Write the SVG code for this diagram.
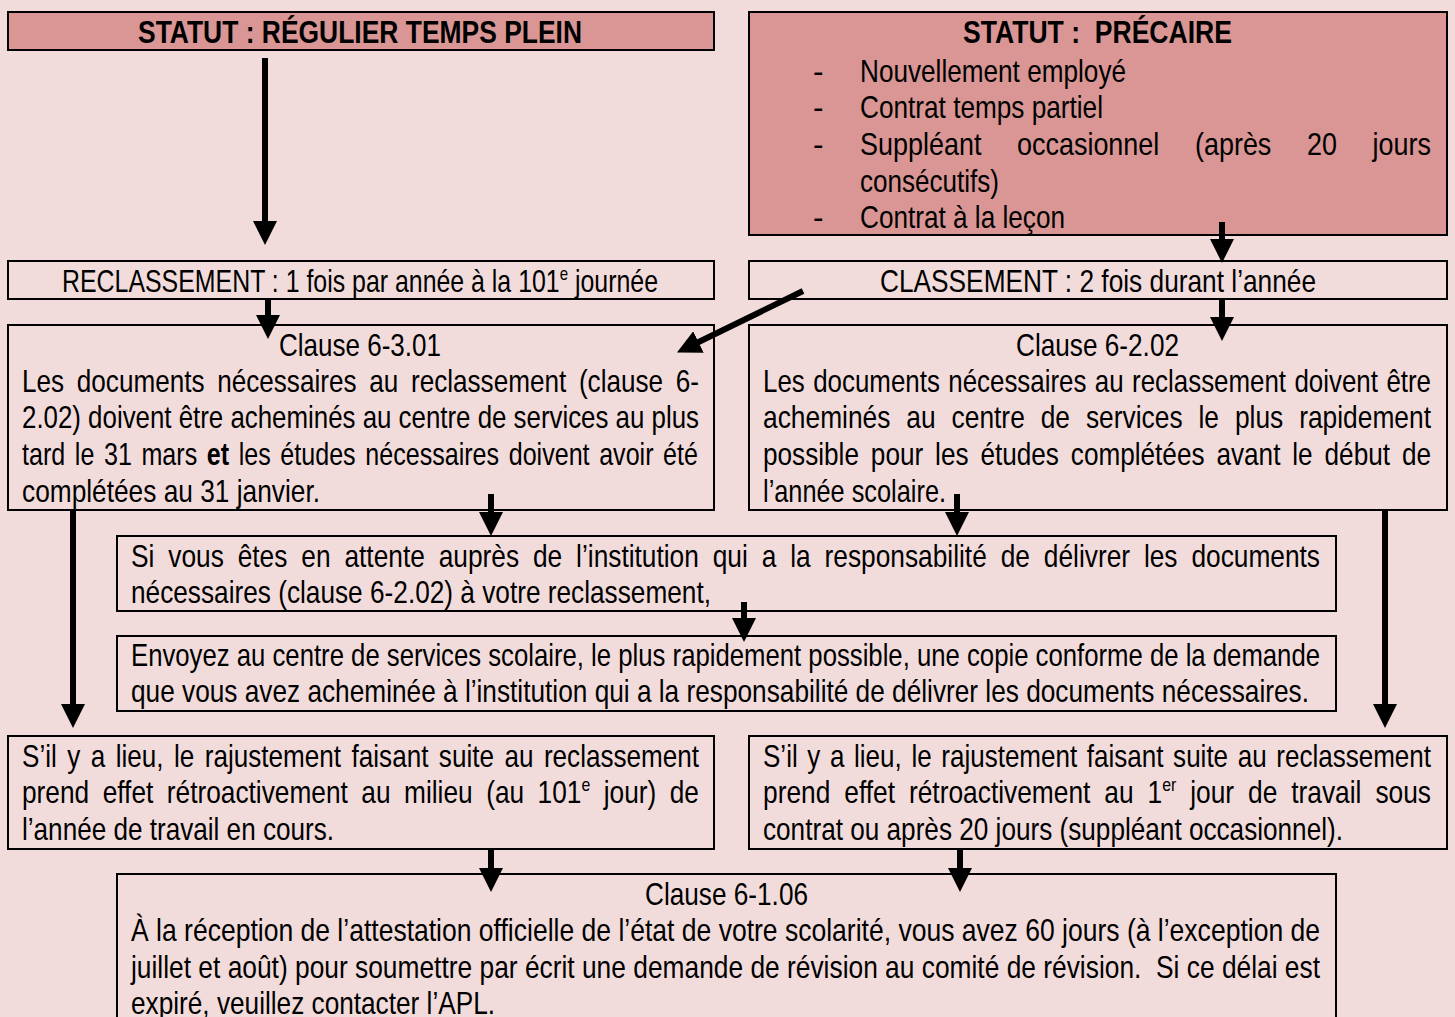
<svg xmlns="http://www.w3.org/2000/svg" width="1455" height="1017" viewBox="0 0 1455 1017">
<style>
.bg{fill:#F2DCDB}
.box{fill:#F2DCDB;stroke:#000;stroke-width:2}
.hdr{fill:#D99694;stroke:#000;stroke-width:2}
text{font-family:"Liberation Sans Narrow","Arial Narrow","Liberation Sans",Arial,sans-serif;font-size:31.5px;fill:#000}
.b{font-weight:bold}
.conn{stroke:#000;stroke-width:6;fill:none;marker-end:url(#ah)}
</style>
<defs>
<marker id="ah" markerUnits="userSpaceOnUse" markerWidth="24" markerHeight="24" viewBox="0 0 24 24" refX="1" refY="12" orient="auto">
<path d="M0,0 L24,12 L0,24 z" fill="#000"/>
</marker>
</defs>
<rect class="bg" x="0" y="0" width="1455" height="1017"/>

<g id="statut-regulier">
<rect class="hdr" x="8" y="12" width="706" height="38"/>
<text class="b" x="138" y="43" textLength="444" lengthAdjust="spacingAndGlyphs">STATUT : RÉGULIER TEMPS PLEIN</text>
</g>

<g id="statut-precaire">
<rect class="hdr" x="749" y="12" width="698" height="223"/>
<text class="b" x="963" y="43" textLength="269" lengthAdjust="spacingAndGlyphs" xml:space="preserve">STATUT :  PRÉCAIRE</text>
<text x="813" y="82">-</text>
<text x="860" y="82" textLength="266" lengthAdjust="spacingAndGlyphs">Nouvellement employé</text>
<text x="813" y="118">-</text>
<text x="860" y="118" textLength="243" lengthAdjust="spacingAndGlyphs">Contrat temps partiel</text>
<text x="813" y="155">-</text>
<text x="860" y="155" style="word-spacing:32.9px" textLength="571" lengthAdjust="spacingAndGlyphs">Suppléant occasionnel (après 20 jours</text>
<text x="860" y="192" textLength="139" lengthAdjust="spacingAndGlyphs">consécutifs)</text>
<text x="813" y="228">-</text>
<text x="860" y="228" textLength="205" lengthAdjust="spacingAndGlyphs">Contrat à la leçon</text>
</g>

<g id="reclassement">
<rect class="box" x="8" y="261" width="706" height="38"/>
<text x="62" y="292" textLength="596" lengthAdjust="spacingAndGlyphs">RECLASSEMENT : 1 fois par année à la 101<tspan font-size="19" dy="-12">e</tspan><tspan dy="12"> journée</tspan></text>
</g>

<g id="classement">
<rect class="box" x="749" y="261" width="698" height="38"/>
<text x="880" y="292" textLength="436" lengthAdjust="spacingAndGlyphs">CLASSEMENT : 2 fois durant l’année</text>
</g>

<g id="clause-6-3-01">
<rect class="box" x="8" y="325" width="706" height="185"/>
<text x="279" y="356" textLength="162" lengthAdjust="spacingAndGlyphs">Clause 6-3.01</text>
<text x="22" y="392" style="word-spacing:6.6px" textLength="677" lengthAdjust="spacingAndGlyphs">Les documents nécessaires au reclassement (clause 6-</text>
<text x="22" y="428" textLength="677" lengthAdjust="spacingAndGlyphs">2.02) doivent être acheminés au centre de services au plus</text>
<text x="22" y="465" style="word-spacing:3.3px" textLength="676" lengthAdjust="spacingAndGlyphs">tard le 31 mars <tspan class="b">et</tspan> les études nécessaires doivent avoir été</text>
<text x="22" y="502" textLength="298" lengthAdjust="spacingAndGlyphs">complétées au 31 janvier.</text>
</g>

<g id="clause-6-2-02">
<rect class="box" x="749" y="325" width="698" height="185"/>
<text x="1016" y="356" textLength="163" lengthAdjust="spacingAndGlyphs">Clause 6-2.02</text>
<text x="763" y="392" style="word-spacing:1.5px" textLength="668" lengthAdjust="spacingAndGlyphs">Les documents nécessaires au reclassement doivent être</text>
<text x="763" y="428" style="word-spacing:10.3px" textLength="668" lengthAdjust="spacingAndGlyphs">acheminés au centre de services le plus rapidement</text>
<text x="763" y="465" style="word-spacing:5.6px" textLength="668" lengthAdjust="spacingAndGlyphs">possible pour les études complétées avant le début de</text>
<text x="763" y="502" textLength="183" lengthAdjust="spacingAndGlyphs">l’année scolaire.</text>
</g>

<g id="attente">
<rect class="box" x="117" y="536" width="1219" height="75"/>
<text x="131" y="567" style="word-spacing:7.9px" textLength="1189" lengthAdjust="spacingAndGlyphs">Si vous êtes en attente auprès de l’institution qui a la responsabilité de délivrer les documents</text>
<text x="131" y="603" textLength="580" lengthAdjust="spacingAndGlyphs">nécessaires (clause 6-2.02) à votre reclassement,</text>
</g>

<g id="envoyez">
<rect class="box" x="117" y="636" width="1219" height="75"/>
<text x="131" y="666" textLength="1189" lengthAdjust="spacingAndGlyphs">Envoyez au centre de services scolaire, le plus rapidement possible, une copie conforme de la demande</text>
<text x="131" y="702" textLength="1178" lengthAdjust="spacingAndGlyphs">que vous avez acheminée à l’institution qui a la responsabilité de délivrer les documents nécessaires.</text>
</g>

<g id="rajustement-regulier">
<rect class="box" x="8" y="736" width="706" height="113"/>
<text x="22" y="767" style="word-spacing:3.9px" textLength="677" lengthAdjust="spacingAndGlyphs">S’il y a lieu, le rajustement faisant suite au reclassement</text>
<text x="22" y="803" style="word-spacing:7.4px" textLength="677" lengthAdjust="spacingAndGlyphs">prend effet rétroactivement au milieu (au 101<tspan font-size="19" dy="-12">e</tspan><tspan dy="12"> jour) de</tspan></text>
<text x="22" y="840" textLength="312" lengthAdjust="spacingAndGlyphs">l’année de travail en cours.</text>
</g>

<g id="rajustement-precaire">
<rect class="box" x="749" y="736" width="698" height="113"/>
<text x="763" y="767" style="word-spacing:2.9px" textLength="668" lengthAdjust="spacingAndGlyphs">S’il y a lieu, le rajustement faisant suite au reclassement</text>
<text x="763" y="803" style="word-spacing:7.9px" textLength="668" lengthAdjust="spacingAndGlyphs">prend effet rétroactivement au 1<tspan font-size="19" dy="-12">er</tspan><tspan dy="12"> jour de travail sous</tspan></text>
<text x="763" y="840" textLength="580" lengthAdjust="spacingAndGlyphs">contrat ou après 20 jours (suppléant occasionnel).</text>
</g>

<g id="clause-6-1-06">
<rect class="box" x="117" y="874" width="1219" height="160"/>
<text x="645" y="905" textLength="163" lengthAdjust="spacingAndGlyphs">Clause 6-1.06</text>
<text x="131" y="941" textLength="1189" lengthAdjust="spacingAndGlyphs">À la réception de l’attestation officielle de l’état de votre scolarité, vous avez 60 jours (à l’exception de</text>
<text x="131" y="978" textLength="1189" lengthAdjust="spacingAndGlyphs" xml:space="preserve">juillet et août) pour soumettre par écrit une demande de révision au comité de révision.  Si ce délai est</text>
<text x="131" y="1014" textLength="364" lengthAdjust="spacingAndGlyphs">expiré, veuillez contacter l’APL.</text>
</g>

<g id="connectors">
<path class="conn" d="M265,58 V222"/>
<path class="conn" d="M1222,222 V240"/>
<path class="conn" d="M268,299 V316"/>
<path class="conn" d="M1222,299 V318"/>
<path class="conn" d="M803,291 L697.6,342.5"/>
<path class="conn" d="M491,494 V513"/>
<path class="conn" d="M957,494 V513"/>
<path class="conn" d="M73,510 V705"/>
<path class="conn" d="M1385,510 V705"/>
<path class="conn" d="M744,602 V619"/>
<path class="conn" d="M491,849 V869"/>
<path class="conn" d="M960,849 V869"/>
</g>
</svg>
